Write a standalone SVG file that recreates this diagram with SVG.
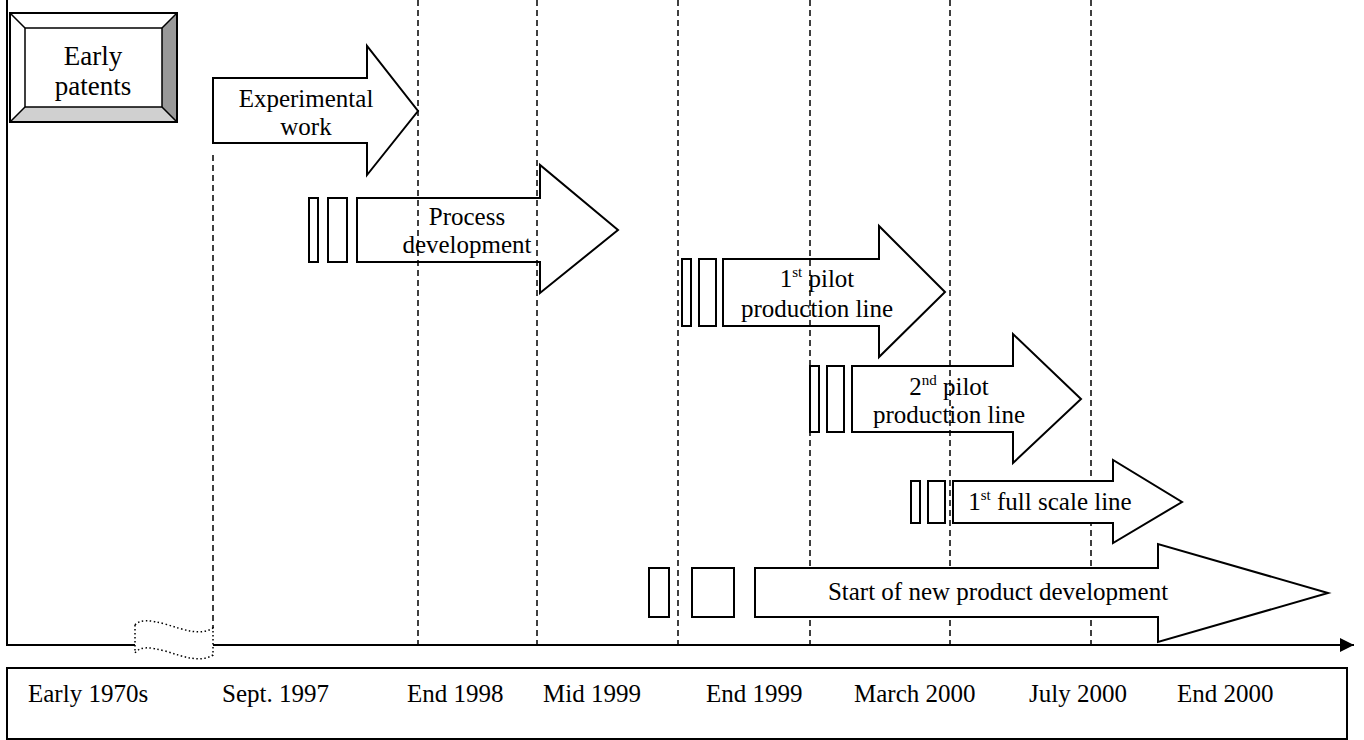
<svg xmlns="http://www.w3.org/2000/svg" width="1364" height="740" viewBox="0 0 1364 740">
<style>
text{font-family:"Liberation Serif","Times New Roman",serif;font-size:25px;fill:#000}
.c{text-anchor:middle}
.arr{stroke:#000;stroke-width:2;stroke-linejoin:miter}
.op{fill:none}
.wf{fill:#fff}
.sq{fill:#fff;stroke:#000;stroke-width:2}
.dash{stroke:#000;stroke-width:1.5;stroke-dasharray:6 4;fill:none}
.ax{stroke:#000;stroke-width:2;fill:none}
.sup{font-size:15px}
</style>
<defs>
<marker id="ah" viewBox="0 0 10 10" refX="10" refY="5" markerWidth="15" markerHeight="14" markerUnits="userSpaceOnUse" orient="auto">
<path d="M0,0 L10,5 L0,10 z" fill="#000"/>
</marker>
</defs>
<rect width="1364" height="740" fill="#fff"/>
<g id="connectors">
<line class="dash" x1="213" y1="155" x2="213" y2="628"/>
<line class="dash" x1="418" y1="0" x2="418" y2="645"/>
<line class="dash" x1="537" y1="0" x2="537" y2="645"/>
<line class="dash" x1="678" y1="0" x2="678" y2="645"/>
<line class="dash" x1="810" y1="0" x2="810" y2="645"/>
<line class="dash" x1="950" y1="0" x2="950" y2="645"/>
<line class="dash" x1="1091" y1="0" x2="1091" y2="645"/>
<line class="ax" x1="7" y1="0" x2="7" y2="645"/>
<line class="ax" x1="6" y1="645" x2="140" y2="645"/>
<line class="ax" x1="210" y1="645" x2="1354" y2="645" marker-end="url(#ah)"/>
<path d="M135,625 C140,619 150,620 165,624 C185,630 200,636 213,628 L213,655 C200,663 185,657 165,651 C150,647 140,646 135,653 Z" fill="#fff" stroke="#000" stroke-width="1.5" stroke-dasharray="1.5 2.5"/>
</g>
<g id="early-patents">
<rect x="10" y="13" width="167" height="109" fill="#fff" stroke="#000" stroke-width="2"/>
<polygon points="162,28 177,13 177,122 162,107" fill="#999"/>
<polygon points="25,107 162,107 177,122 10,122" fill="#d0d0d0"/>
<rect x="10" y="13" width="167" height="109" fill="none" stroke="#000" stroke-width="2"/>
<rect x="25" y="28" width="137" height="79" fill="#fff" stroke="#000" stroke-width="1.5"/>
<path d="M10,13 L25,28 M177,13 L162,28 M177,122 L162,107 M10,122 L25,107" stroke="#000" stroke-width="1.5"/>
<text class="c" x="93" y="65" style="font-size:27px">Early</text>
<text class="c" x="93" y="95" style="font-size:27px">patents</text>
</g>
<g id="experimental-work">
<polygon class="arr wf" points="213,78 367,78 367,46 418,111 367,175 367,143 213,143"/>
<text class="c" x="306" y="107">Experimental</text>
<text class="c" x="306" y="135">work</text>
</g>
<g id="process-development">
<rect class="sq" x="309" y="198" width="9" height="64"/>
<rect class="sq" x="328" y="198" width="19" height="64"/>
<polygon class="arr op" points="357,198 540,198 540,165 618,230 540,293 540,262 357,262"/>
<text class="c" x="467" y="225">Process</text>
<text class="c" x="467" y="253">development</text>
</g>
<g id="pilot-line-1">
<rect class="sq" x="682" y="259" width="9" height="67"/>
<rect class="sq" x="699" y="259" width="17" height="67"/>
<polygon class="arr op" points="723,259 879,259 879,226 945,292 879,357 879,326 723,326"/>
<text class="c" x="817" y="287">1<tspan class="sup" dy="-10">st</tspan><tspan dy="10"> pilot</tspan></text>
<text class="c" x="817" y="317">production line</text>
</g>
<g id="pilot-line-2">
<rect class="sq" x="810" y="366" width="9" height="66"/>
<rect class="sq" x="827" y="366" width="17" height="66"/>
<polygon class="arr op" points="852,366 1013,366 1013,334 1081,399 1013,463 1013,432 852,432"/>
<text class="c" x="949" y="395">2<tspan class="sup" dy="-10">nd</tspan><tspan dy="10"> pilot</tspan></text>
<text class="c" x="949" y="423">production line</text>
</g>
<g id="full-scale-line">
<rect class="sq" x="911" y="481" width="9" height="42"/>
<rect class="sq" x="928" y="481" width="17" height="42"/>
<polygon class="arr wf" points="953,481 1113,481 1113,460 1182,502 1113,543 1113,523 953,523"/>
<text class="c" x="1050" y="510">1<tspan class="sup" dy="-10">st</tspan><tspan dy="10"> full scale line</tspan></text>
</g>
<g id="new-product-development">
<rect class="sq" x="649" y="568" width="20" height="49"/>
<rect class="sq" x="692" y="568" width="42" height="49"/>
<polygon class="arr wf" points="755,568 1158,568 1158,544 1328,593 1158,642 1158,617 755,617"/>
<text class="c" x="998" y="600">Start of new product development</text>
</g>
<g id="timeline-labels">
<rect x="7" y="668" width="1340" height="71" fill="#fff" stroke="#000" stroke-width="2"/>
<text x="28" y="702">Early 1970s</text>
<text x="222" y="702">Sept. 1997</text>
<text x="407" y="702">End 1998</text>
<text x="543" y="702">Mid 1999</text>
<text x="706" y="702">End 1999</text>
<text x="854" y="702">March 2000</text>
<text x="1029" y="702">July 2000</text>
<text x="1177" y="702">End 2000</text>
</g>
</svg>
